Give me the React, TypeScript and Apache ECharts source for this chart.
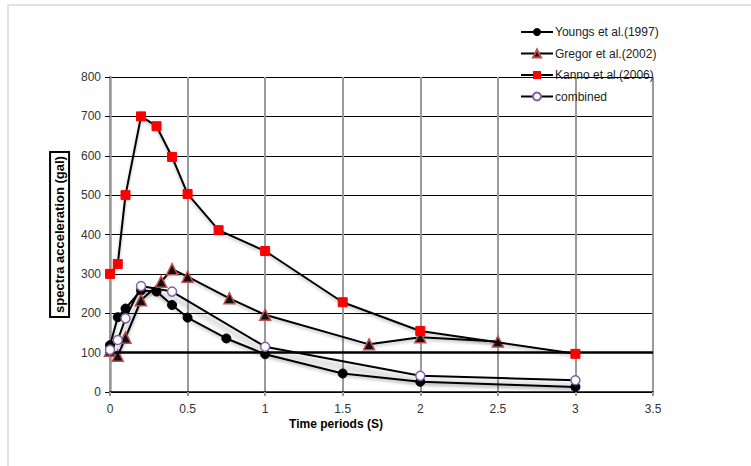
import React, { useEffect, useRef } from "react";
import * as echarts from "echarts";

const X_TICKS = [0, 0.5, 1, 1.5, 2, 2.5, 3, 3.5];
const Y_TICKS = [0, 100, 200, 300, 400, 500, 600, 700, 800];

const youngsT = [0, 0.05, 0.1, 0.2, 0.3, 0.4, 0.5, 0.75, 1, 1.5, 2, 3];
const youngsA = [119, 190, 212, 258, 255, 221, 189, 136, 96, 47, 26, 13];

const gregorT = [0, 0.05, 0.1, 0.2, 0.33, 0.4, 0.5, 0.77, 1, 1.67, 2, 2.5];
const gregorA = [105, 92, 138, 233, 280, 312, 293, 238, 196, 121, 139, 128];

const kannoT = [0, 0.05, 0.1, 0.2, 0.3, 0.4, 0.5, 0.7, 1, 1.5, 2, 3];
const kannoA = [300, 325, 500, 700, 675, 597, 503, 411, 358, 228, 155, 97];

const combinedT = [0, 0.05, 0.1, 0.2, 0.4, 1, 2, 3];
const combinedA = [107, 132, 187, 269, 255, 115, 41, 30];

const REF_LINE = 100;

const names = ["Youngs et al.(1997)", "Gregor et al.(2002)", "Kanno et al.(2006)", "combined"];

const zip = (t: number[], a: number[]) => t.map((v, i) => [v, a[i]]);

const FONT = "'Liberation Sans Narrow', 'Liberation Sans', Arial, sans-serif";

export default function App() {
  const ref = useRef<HTMLDivElement>(null);
  useEffect(() => {
    if (!ref.current) return;
    const chart = echarts.init(ref.current, undefined, { renderer: "svg" });
    const lineBase = { color: "#000", width: 2 };
    chart.setOption({
      animation: false,
      backgroundColor: "#fff",
      textStyle: { fontFamily: FONT },
      grid: { left: 110, right: 98, top: 77, bottom: 74, containLabel: false },
      graphic: [
        {
          type: "rect",
          shape: { x: 8, y: 5, width: 800, height: 500 },
          style: { fill: "none", stroke: "#e2e2e2", lineWidth: 2 },
          silent: true,
          z: -10,
        },
        {
          type: "text",
          x: 336,
          y: 424,
          style: {
            text: "Time periods (S)",
            fontFamily: "'Liberation Sans', Arial, sans-serif",
            fontWeight: "bold",
            fontSize: 12,
            fill: "#000",
            align: "center",
            verticalAlign: "middle",
          },
        },
      ],
      legend: {
        orient: "vertical",
        left: 515,
        top: 21,
        itemWidth: 32,
        itemHeight: 10,
        itemGap: 9.5,
        data: names,
        textStyle: { fontSize: 12, color: "#222", fontFamily: FONT, padding: [0, 0, 0, -3] },
      },
      xAxis: {
        type: "value",
        min: 0,
        max: 3.5,
        interval: 0.5,
        axisLine: { show: true, onZero: false, lineStyle: { color: "#000", width: 1.5 } },
        axisTick: { show: true, length: 4, lineStyle: { color: "#999", width: 2 } },
        axisLabel: {
          fontSize: 12,
          color: "#333",
          margin: 11,
          fontFamily: FONT,
          formatter: (v: number) => (X_TICKS.includes(v) ? String(v) : ""),
        },
        splitLine: { show: true, lineStyle: { color: "#9a9a9a", width: 2 } },
      },
      yAxis: {
        type: "value",
        min: 0,
        max: 800,
        interval: 100,
        name: "spectra acceleration (gal)",
        nameLocation: "middle",
        nameRotate: 90,
        nameGap: 34,
        nameTextStyle: {
          fontFamily: "'Liberation Sans', Arial, sans-serif",
          fontWeight: "bold",
          fontSize: 13,
          color: "#000",
          borderColor: "#000",
          borderWidth: 2,
          padding: [3, 4, 3, 4],
        },
        axisLine: { show: true, lineStyle: { color: "#9a9a9a", width: 2.5 } },
        axisTick: { show: true, inside: false, length: 5, lineStyle: { color: "#000", width: 1 } },
        axisLabel: {
          fontSize: 12,
          color: "#333",
          margin: 9,
          fontFamily: FONT,
          formatter: (v: number) => (Y_TICKS.includes(v) ? String(v) : ""),
        },
        splitLine: { show: true, lineStyle: { color: "#000", width: 1 } },
      },
      series: [
        {
          name: names[0],
          type: "line",
          data: zip(youngsT, youngsA),
          symbol: "circle",
          symbolSize: 9,
          itemStyle: { color: "#000", borderColor: "#000" },
          lineStyle: { ...lineBase, shadowColor: "rgba(0,0,0,0.25)", shadowBlur: 3, shadowOffsetY: 2 },
          z: 3,
          markLine: {
            silent: true,
            symbol: "none",
            label: { show: false },
            lineStyle: { color: "#000", width: 2.5, type: "solid" },
            data: [{ yAxis: REF_LINE }],
          },
        },
        {
          name: names[1],
          type: "line",
          data: zip(gregorT, gregorA),
          symbol: "triangle",
          symbolSize: 11,
          itemStyle: { color: "#111", borderColor: "#c0504d", borderWidth: 1.5 },
          lineStyle: { ...lineBase, shadowColor: "rgba(0,0,0,0.25)", shadowBlur: 3, shadowOffsetY: 2 },
          z: 4,
        },
        {
          name: names[2],
          type: "line",
          data: zip(kannoT, kannoA),
          symbol: "rect",
          symbolSize: 9,
          itemStyle: { color: "#ff0000", borderColor: "#ff0000" },
          lineStyle: { ...lineBase, shadowColor: "rgba(0,0,0,0.25)", shadowBlur: 3, shadowOffsetY: 2 },
          z: 5,
        },
        {
          name: names[3],
          type: "line",
          data: zip(combinedT, combinedA),
          symbol: "circle",
          symbolSize: 9,
          itemStyle: { color: "#fff", borderColor: "#7f62a8", borderWidth: 1.5 },
          lineStyle: { ...lineBase, shadowColor: "rgba(0,0,0,0.45)", shadowBlur: 6, shadowOffsetY: 6, shadowOffsetX: 2 },
          z: 6,
        },
      ],
    });
    return () => chart.dispose();
  }, []);
  return (
    <div
      ref={ref}
      style={{ position: "fixed", left: 0, top: 0, width: 751, height: 466, background: "#fff" }}
    />
  );
}
